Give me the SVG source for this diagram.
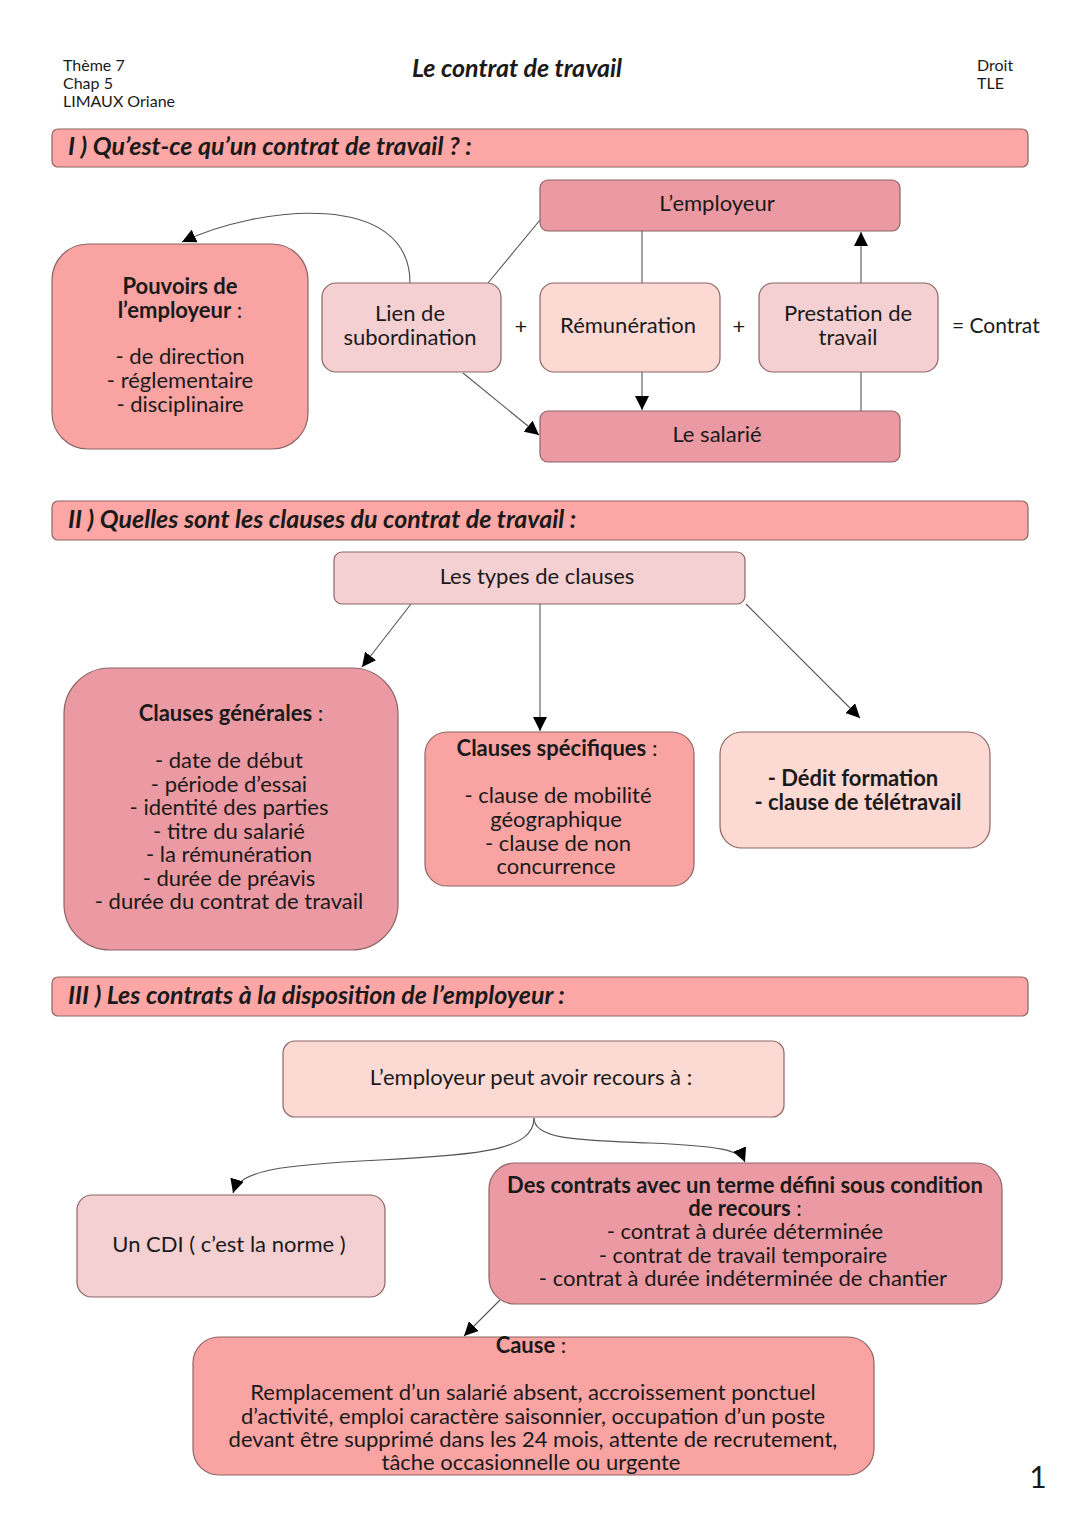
<svg xmlns="http://www.w3.org/2000/svg" width="1080" height="1527" viewBox="0 0 1080 1527">
<defs>
<style>
text{font-family:Lato,"Open Sans","Liberation Sans",sans-serif;fill:#1a1a1a;}
.t{font-size:22px;text-anchor:middle;}
.h{font-size:16px;}
.b{font-weight:bold;}
.sec{font-size:25px;font-weight:bold;font-style:italic;}
.box{stroke:#8c6565;stroke-width:1.2;}
.c1{fill:#f9a3a3;}
.c2{fill:#f4d0d3;}
.c3{fill:#eb99a2;}
.c4{fill:#fdd9d3;}
.bar{fill:#fca6a5;stroke:#8c6565;stroke-width:1.2;}
.ln{fill:none;stroke:#555;stroke-width:1.1;}
</style>
<marker id="ar" viewBox="0 0 10 10" refX="10" refY="5" markerWidth="14" markerHeight="14" markerUnits="userSpaceOnUse" orient="auto">
<path d="M0,0 L10,5 L0,10 z" fill="#000"/>
</marker>
</defs>
<rect width="1080" height="1527" fill="#fff"/>

<g id="header">
<text class="h" x="63" y="71">Thème 7</text>
<text class="h" x="63" y="89">Chap 5</text>
<text class="h" x="63" y="107">LIMAUX Oriane</text>
<text x="517" y="77" style="font-size:25px;font-weight:bold;font-style:italic;text-anchor:middle">Le contrat de travail</text>
<text class="h" x="977" y="71">Droit</text>
<text class="h" x="977" y="89">TLE</text>
<text x="1038" y="1488" style="font-size:30px;text-anchor:middle">1</text>
</g>

<g id="section1">
<rect class="bar" x="52" y="129" width="976" height="38" rx="6"/>
<text class="sec" x="68" y="155">I ) Qu’est-ce qu’un contrat de travail ? :</text>
</g>

<g id="connectors">
<path class="ln" d="M410,283 C410,190 260,205 182,242" marker-end="url(#ar)"/>
<path class="ln" d="M488,283 L540,220"/>
<path class="ln" d="M463,373 L539,435" marker-end="url(#ar)"/>
<path class="ln" d="M642,231 L642,283"/>
<path class="ln" d="M642,372 L642,410" marker-end="url(#ar)"/>
<path class="ln" d="M861,411 L861,372"/>
<path class="ln" d="M861,283 L861,232" marker-end="url(#ar)"/>
<path class="ln" d="M411,604 L362,667" marker-end="url(#ar)"/>
<path class="ln" d="M540,604 L540,731" marker-end="url(#ar)"/>
<path class="ln" d="M746,604 L860,718" marker-end="url(#ar)"/>
<path class="ln" d="M534,1118 C534,1150 480,1155 380,1160 C280,1165 240,1170 233,1193" marker-end="url(#ar)"/>
<path class="ln" d="M534,1118 C534,1140 580,1140 650,1143 C720,1146 740,1150 745,1162" marker-end="url(#ar)"/>
<path class="ln" d="M500,1300 L464,1336" marker-end="url(#ar)"/>
</g>

<g id="pouvoirs">
<rect class="box c1" x="52" y="244" width="256" height="205" rx="36"/>
<text class="t b" x="180" y="294">Pouvoirs de</text>
<text class="t" x="180" y="318"><tspan class="b">l’employeur</tspan> :</text>
<text class="t" x="180" y="364">- de direction</text>
<text class="t" x="180" y="388">- réglementaire</text>
<text class="t" x="180" y="412">- disciplinaire</text>
</g>

<g id="lien">
<rect class="box c2" x="322" y="283" width="179" height="89" rx="14"/>
<text class="t" x="410" y="321">Lien de</text>
<text class="t" x="410" y="345">subordination</text>
</g>
<text class="t" x="521" y="334">+</text>

<g id="remuneration">
<rect class="box c4" x="540" y="283" width="180" height="89" rx="14"/>
<text class="t" x="628" y="333">Rémunération</text>
</g>
<text class="t" x="739" y="334">+</text>

<g id="prestation">
<rect class="box c2" x="759" y="283" width="179" height="89" rx="14"/>
<text class="t" x="848" y="321">Prestation de</text>
<text class="t" x="848" y="345">travail</text>
</g>
<text x="952" y="333" style="font-size:21px">= Contrat</text>

<g id="employeur">
<rect class="box c3" x="540" y="180" width="360" height="51" rx="8"/>
<text class="t" x="717" y="211">L’employeur</text>
</g>

<g id="salarie">
<rect class="box c3" x="540" y="411" width="360" height="51" rx="8"/>
<text class="t" x="717" y="442">Le salarié</text>
</g>

<g id="section2">
<rect class="bar" x="52" y="501" width="976" height="39" rx="6"/>
<text class="sec" x="68" y="528">II ) Quelles sont les clauses du contrat de travail :</text>
</g>

<g id="types">
<rect class="box c2" x="334" y="552" width="411" height="52" rx="8"/>
<text class="t" x="537" y="584">Les types de clauses</text>
</g>

<g id="generales">
<rect class="box c3" x="64" y="668" width="334" height="282" rx="46"/>
<text class="t" x="231" y="721"><tspan class="b">Clauses générales</tspan> :</text>
<text class="t" x="229" y="768">- date de début</text>
<text class="t" x="229" y="792">- période d’essai</text>
<text class="t" x="229" y="815">- identité des parties</text>
<text class="t" x="229" y="839">- titre du salarié</text>
<text class="t" x="229" y="862">- la rémunération</text>
<text class="t" x="229" y="886">- durée de préavis</text>
<text class="t" x="229" y="909">- durée du contrat de travail</text>
</g>

<g id="specifiques">
<rect class="box c1" x="425" y="732" width="269" height="154" rx="22"/>
<text class="t" x="557" y="756"><tspan class="b">Clauses spécifiques</tspan> :</text>
<text class="t" x="558" y="803">- clause de mobilité</text>
<text class="t" x="556" y="827">géographique</text>
<text class="t" x="558" y="851">- clause de non</text>
<text class="t" x="556" y="874">concurrence</text>
</g>

<g id="dedit">
<rect class="box c4" x="720" y="732" width="270" height="116" rx="22"/>
<text class="t b" x="853" y="786">- Dédit formation</text>
<text class="t b" x="858" y="810">- clause de télétravail</text>
</g>

<g id="section3">
<rect class="bar" x="52" y="977" width="976" height="39" rx="6"/>
<text class="sec" x="68" y="1004">III ) Les contrats à la disposition de l’employeur :</text>
</g>

<g id="recours">
<rect class="box c4" x="283" y="1041" width="501" height="76" rx="12"/>
<text class="t" x="531" y="1085">L’employeur peut avoir recours à :</text>
</g>

<g id="cdi">
<rect class="box c2" x="77" y="1195" width="308" height="102" rx="15"/>
<text class="t" x="229" y="1252">Un CDI ( c’est la norme )</text>
</g>

<g id="terme">
<rect class="box c3" x="489" y="1163" width="513" height="141" rx="26"/>
<text class="t b" x="745" y="1193">Des contrats avec un terme défini sous condition</text>
<text class="t" x="745" y="1216"><tspan class="b">de recours</tspan> :</text>
<text class="t" x="745" y="1239">- contrat à durée déterminée</text>
<text class="t" x="743" y="1263">- contrat de travail temporaire</text>
<text class="t" x="743" y="1286">- contrat à durée indéterminée de chantier</text>
</g>

<g id="cause">
<rect class="box c1" x="193" y="1337" width="681" height="138" rx="26"/>
<text class="t" x="531" y="1353"><tspan class="b">Cause</tspan> :</text>
<text class="t" x="533" y="1400">Remplacement d’un salarié absent, accroissement ponctuel</text>
<text class="t" x="533" y="1424">d’activité, emploi caractère saisonnier, occupation d’un poste</text>
<text class="t" x="533" y="1447">devant être supprimé dans les 24 mois, attente de recrutement,</text>
<text class="t" x="531" y="1470">tâche occasionnelle ou urgente</text>
</g>
</svg>
